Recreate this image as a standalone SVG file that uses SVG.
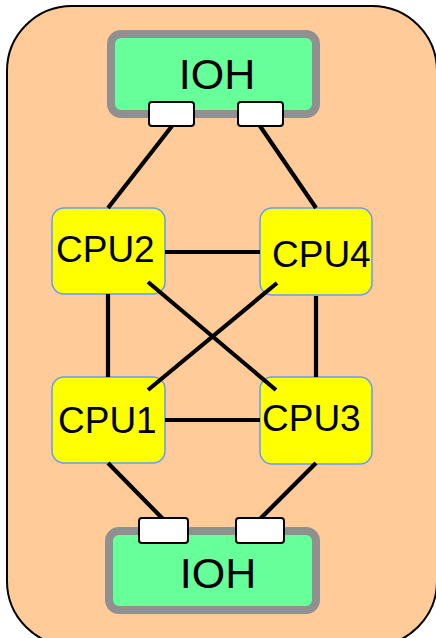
<svg xmlns="http://www.w3.org/2000/svg" width="436" height="638" viewBox="0 0 436 638">
<style>
.ioh{fill:#66FF99;stroke:#909090;stroke-width:8}
.port{fill:#FFFFFF;stroke:#000;stroke-width:2}
.cpu{fill:#FFFF00;stroke:#6699FF;stroke-width:1.5}
.t{font-family:"Liberation Sans",Arial,sans-serif;fill:#000}
.link{stroke:#000;stroke-width:4.2;fill:none}
</style>
<rect x="7" y="6" width="430" height="640" rx="65" ry="65" fill="#FFCC99" stroke="#000" stroke-width="2"/>
<g id="cpu2">
<rect class="cpu" x="52" y="208" width="113" height="86" rx="12"/>
<text class="t" x="56" y="262" font-size="37">CPU2</text>
</g>
<g id="cpu4">
<rect class="cpu" x="260" y="208" width="112" height="87" rx="12"/>
<text class="t" x="272" y="267" font-size="37">CPU4</text>
</g>
<g id="cpu1">
<rect class="cpu" x="52" y="377" width="113" height="86" rx="12"/>
<text class="t" x="58" y="433" font-size="37">CPU1</text>
</g>
<g id="cpu3">
<rect class="cpu" x="260" y="377" width="112" height="87" rx="12"/>
<text class="t" x="262" y="431" font-size="37">CPU3</text>
</g>
<g id="connectors">
<line class="link" x1="172" y1="126" x2="108" y2="208"/>
<line class="link" x1="260" y1="126" x2="316" y2="208"/>
<line class="link" x1="165" y1="252" x2="260" y2="252"/>
<line class="link" x1="165" y1="420" x2="260" y2="420"/>
<line class="link" x1="108" y1="294" x2="108" y2="377"/>
<line class="link" x1="316" y1="296" x2="316" y2="377"/>
<line class="link" x1="148" y1="282" x2="276" y2="390"/>
<line class="link" x1="277" y1="283" x2="148" y2="390"/>
<line class="link" x1="108" y1="463" x2="163" y2="519"/>
<line class="link" x1="316" y1="463" x2="260" y2="519"/>
</g>
<g id="ioh-top">
<rect class="ioh" x="111" y="34" width="205" height="80" rx="10"/>
<text class="t" x="217" y="89" font-size="43" text-anchor="middle">IOH</text>
<rect class="port" x="149" y="102" width="45" height="24" rx="3"/>
<rect class="port" x="238" y="102" width="45" height="24" rx="3"/>
</g>
<g id="ioh-bottom">
<rect class="ioh" x="109" y="531" width="207" height="79" rx="10"/>
<text class="t" x="218" y="588" font-size="43" text-anchor="middle">IOH</text>
<rect class="port" x="139" y="518" width="49" height="25" rx="3"/>
<rect class="port" x="236" y="518" width="48" height="25" rx="3"/>
</g>
</svg>
